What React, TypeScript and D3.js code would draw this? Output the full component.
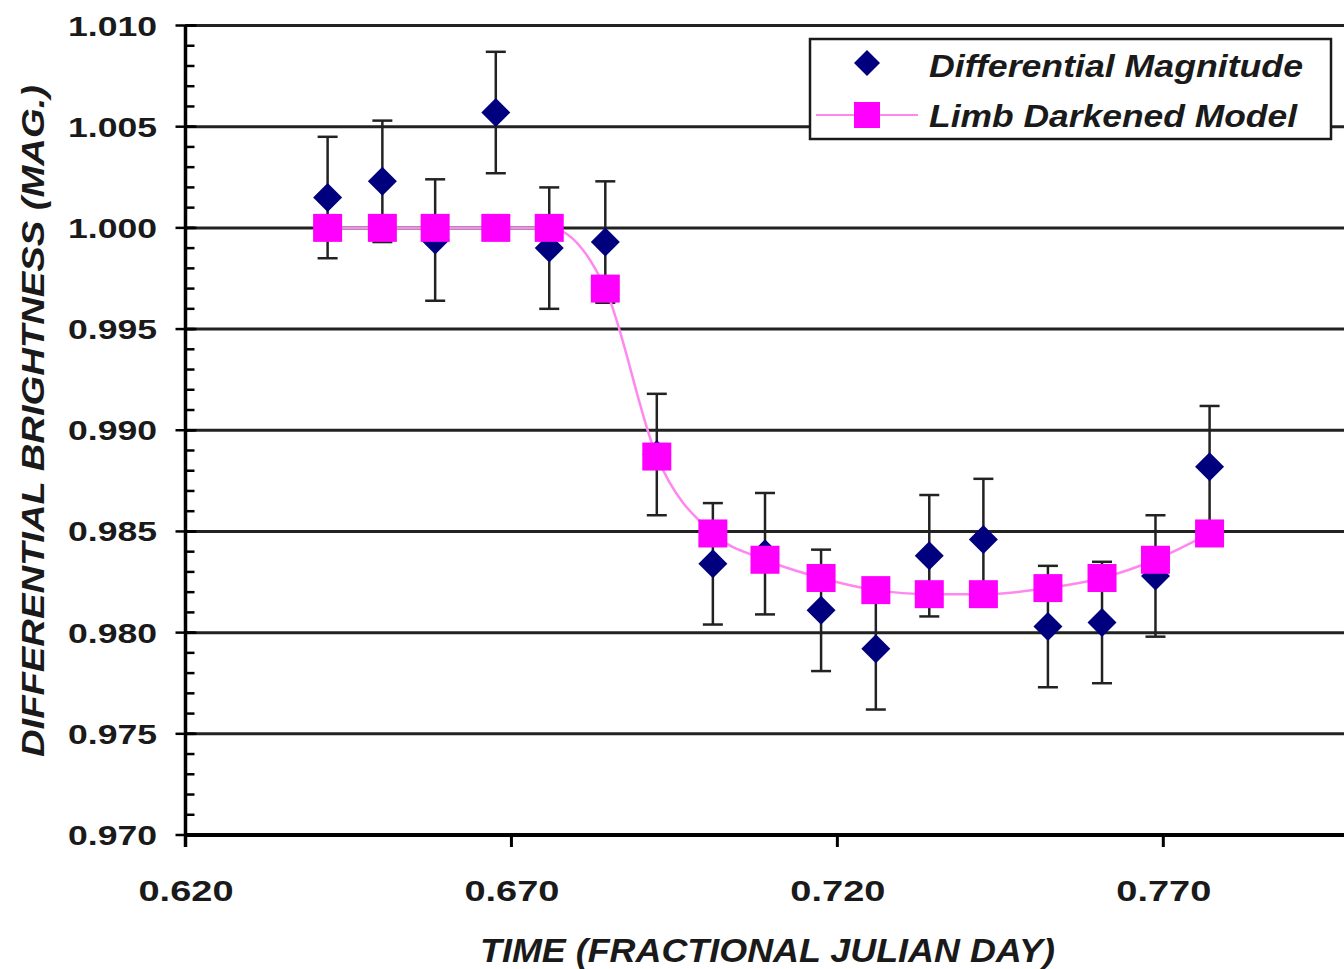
import { useEffect, useRef } from "react";
import * as d3 from "d3";

// Time of each observation (fractional Julian day)
const times = [
  0.6418, 0.6502, 0.6583, 0.6676, 0.6758, 0.6844, 0.6923, 0.7009, 0.7089,
  0.7175, 0.7259, 0.7341, 0.7424, 0.7523, 0.7606, 0.7688, 0.7771,
];

// Observed differential magnitude
const observed = [
  1.0015, 1.0023, 0.9994, 1.0057, 0.999, 0.9993, 0.9888, 0.9834, 0.9839,
  0.9811, 0.9792, 0.9838, 0.9846, 0.9803, 0.9805, 0.9828, 0.9882,
];

// Error bar half-widths
const errors = [
  0.003, 0.003, 0.003, 0.003, 0.003, 0.003, 0.003, 0.003, 0.003, 0.003, 0.003,
  0.003, 0.003, 0.003, 0.003, 0.003, 0.003,
];

// Limb darkened model
const model = [
  1.0, 1.0, 1.0, 1.0, 1.0, 0.997, 0.9887, 0.9849, 0.9836, 0.9827, 0.9821,
  0.9819, 0.9819, 0.9822, 0.9827, 0.9836, 0.9849,
];

const xTicks = [0.62, 0.67, 0.72, 0.77];
const yTicks = [1.01, 1.005, 1.0, 0.995, 0.99, 0.985, 0.98, 0.975, 0.97];

const seriesNames = ["Differential Magnitude", "Limb Darkened Model"];

const FONT = "'Liberation Sans', Arial, Helvetica, sans-serif";
const NAVY = "#00007f";
const MAGENTA = "#ff00ff";
const PINK = "#ff88f0";
const INK = "#1a1a1a";

export default function App() {
  const svgRef = useRef<SVGSVGElement>(null);

  useEffect(() => {
    if (!svgRef.current) return;
    const svg = d3.select(svgRef.current);
    svg.selectAll("*").remove();

    const W = 1344;
    const H = 969;
    svg.attr("width", W).attr("height", H);

    const x = d3.scaleLinear().domain([0.62, 0.77]).range([185.5, 1163.3]);
    const y = d3.scaleLinear().domain([0.97, 1.01]).range([835, 25.5]);

    const x0 = x(0.62);
    const y0 = y(0.97);

    // Gridlines
    svg
      .append("g")
      .selectAll("line")
      .data(yTicks.filter((t) => t > 0.9701))
      .enter()
      .append("line")
      .attr("x1", x0)
      .attr("x2", W)
      .attr("y1", (d) => y(d))
      .attr("y2", (d) => y(d))
      .attr("stroke", "#222")
      .attr("stroke-width", 3);

    // Minor y ticks (inside)
    const minor = d3.range(0, 41).map((i) => 0.97 + i * 0.001);
    svg
      .append("g")
      .selectAll("line")
      .data(minor)
      .enter()
      .append("line")
      .attr("x1", x0)
      .attr("x2", x0 + 9)
      .attr("y1", (d) => y(d))
      .attr("y2", (d) => y(d))
      .attr("stroke", "#000")
      .attr("stroke-width", 2.5);

    // Major y ticks (crossing)
    svg
      .append("g")
      .selectAll("line")
      .data(yTicks)
      .enter()
      .append("line")
      .attr("x1", x0 - 10)
      .attr("x2", x0 + 11)
      .attr("y1", (d) => y(d))
      .attr("y2", (d) => y(d))
      .attr("stroke", "#000")
      .attr("stroke-width", 2.5);

    // Axes lines
    svg
      .append("line")
      .attr("x1", x0)
      .attr("x2", x0)
      .attr("y1", y(1.01))
      .attr("y2", y0 + 12)
      .attr("stroke", "#000")
      .attr("stroke-width", 3.5);
    svg
      .append("line")
      .attr("x1", x0)
      .attr("x2", W)
      .attr("y1", y0)
      .attr("y2", y0)
      .attr("stroke", "#000")
      .attr("stroke-width", 4);

    // x ticks
    svg
      .append("g")
      .selectAll("line")
      .data(xTicks)
      .enter()
      .append("line")
      .attr("x1", (d) => x(d))
      .attr("x2", (d) => x(d))
      .attr("y1", y0)
      .attr("y2", y0 + 12)
      .attr("stroke", "#000")
      .attr("stroke-width", 3);

    // y tick labels
    svg
      .append("g")
      .selectAll("text")
      .data(yTicks)
      .enter()
      .append("text")
      .attr("x", 157)
      .attr("y", (d) => y(d) + 10)
      .attr("text-anchor", "end")
      .attr("textLength", 89)
      .attr("lengthAdjust", "spacingAndGlyphs")
      .style("font-family", FONT)
      .style("font-weight", "bold")
      .style("font-size", "28px")
      .attr("fill", INK)
      .text((d) => d3.format(".3f")(d));

    // x tick labels
    svg
      .append("g")
      .selectAll("text")
      .data(xTicks)
      .enter()
      .append("text")
      .attr("x", (d) => x(d) - 47)
      .attr("y", 901)
      .attr("textLength", 95)
      .attr("lengthAdjust", "spacingAndGlyphs")
      .style("font-family", FONT)
      .style("font-weight", "bold")
      .style("font-size", "30px")
      .attr("fill", INK)
      .text((d) => d3.format(".3f")(d));

    // Axis titles
    svg
      .append("text")
      .attr("transform", `translate(44, 757) rotate(-90)`)
      .attr("textLength", 672)
      .attr("lengthAdjust", "spacingAndGlyphs")
      .style("font-family", FONT)
      .style("font-weight", "bold")
      .style("font-style", "italic")
      .style("font-size", "31px")
      .attr("fill", INK)
      .text("DIFFERENTIAL BRIGHTNESS (MAG.)");

    svg
      .append("text")
      .attr("x", 480)
      .attr("y", 962)
      .attr("textLength", 575)
      .attr("lengthAdjust", "spacingAndGlyphs")
      .style("font-family", FONT)
      .style("font-weight", "bold")
      .style("font-style", "italic")
      .style("font-size", "34px")
      .attr("fill", INK)
      .text("TIME (FRACTIONAL JULIAN DAY)");

    // Error bars
    const eb = svg.append("g").attr("stroke", "#222").attr("stroke-width", 2.5);
    times.forEach((t, i) => {
      const cx = x(t);
      const top = y(observed[i] + errors[i]);
      const bot = y(observed[i] - errors[i]);
      eb.append("line").attr("x1", cx).attr("x2", cx).attr("y1", top).attr("y2", bot);
      eb.append("line").attr("x1", cx - 10).attr("x2", cx + 10).attr("y1", top).attr("y2", top);
      eb.append("line").attr("x1", cx - 10).attr("x2", cx + 10).attr("y1", bot).attr("y2", bot);
    });

    // Observed diamonds
    const diamond = (s: number) => `M0,${-s}L${s},0L0,${s}L${-s},0Z`;
    svg
      .append("g")
      .selectAll("path")
      .data(times)
      .enter()
      .append("path")
      .attr("d", diamond(14.5))
      .attr("transform", (d, i) => `translate(${x(d)},${y(observed[i])})`)
      .attr("fill", NAVY);

    // Model line
    const line = d3
      .line<number>()
      .x((d) => x(d))
      .y((_, i) => y(model[i]))
      .curve(d3.curveMonotoneX);
    svg
      .append("path")
      .attr("d", line(times))
      .attr("fill", "none")
      .attr("stroke", PINK)
      .attr("stroke-width", 2.5);

    // Model squares
    svg
      .append("g")
      .selectAll("rect")
      .data(times)
      .enter()
      .append("rect")
      .attr("x", (d) => x(d) - 14.5)
      .attr("y", (_, i) => y(model[i]) - 14)
      .attr("width", 29)
      .attr("height", 28)
      .attr("fill", MAGENTA);

    // Legend
    const lg = svg.append("g");
    lg.append("rect")
      .attr("x", 810)
      .attr("y", 39)
      .attr("width", 521)
      .attr("height", 100)
      .attr("fill", "#fff")
      .attr("stroke", INK)
      .attr("stroke-width", 2.5);
    lg.append("path")
      .attr("d", diamond(13))
      .attr("transform", "translate(867,63)")
      .attr("fill", NAVY);
    lg.append("line")
      .attr("x1", 816)
      .attr("x2", 918)
      .attr("y1", 115)
      .attr("y2", 115)
      .attr("stroke", PINK)
      .attr("stroke-width", 2);
    lg.append("rect")
      .attr("x", 854)
      .attr("y", 102)
      .attr("width", 26)
      .attr("height", 26)
      .attr("fill", MAGENTA);
    const legendLen = [374, 368];
    seriesNames.forEach((name, i) => {
      lg.append("text")
        .attr("x", 929)
        .attr("y", 77 + i * 50)
        .attr("textLength", legendLen[i])
        .attr("lengthAdjust", "spacingAndGlyphs")
        .style("font-family", FONT)
        .style("font-weight", "bold")
        .style("font-style", "italic")
        .style("font-size", "31px")
        .attr("fill", INK)
        .text(name);
    });
  }, []);

  return (
    <svg
      ref={svgRef}
      style={{ position: "absolute", left: 0, top: 0, background: "#fff" }}
    ></svg>
  );
}
